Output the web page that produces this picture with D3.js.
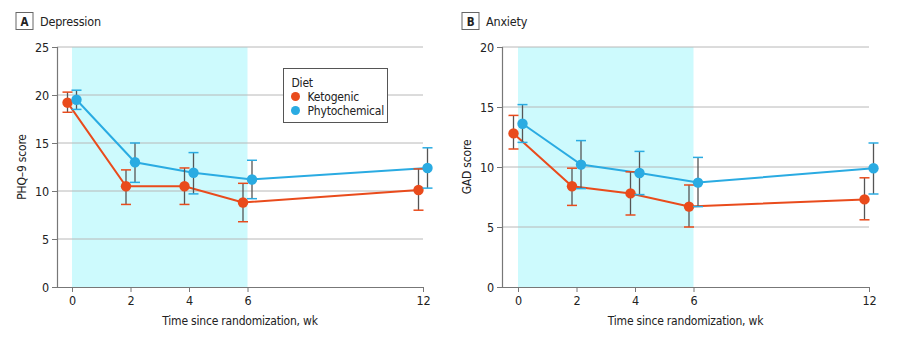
<!DOCTYPE html>
<html>
<head>
<meta charset="utf-8">
<script src="https://cdn.jsdelivr.net/npm/d3@7"></script>
<style>
  body { margin: 0; background: #fff; }
  svg text { font-family: "Liberation Sans Narrow", "DejaVu Sans Condensed", "Noto Sans", sans-serif; fill: #222; letter-spacing: -0.2px; }
</style>
</head>
<body>
<svg id="chart" width="902" height="338"></svg>
<script>
// weeks since randomization
const weeks = [0, 2, 4, 6, 12];
const weekTicks = [0, 2, 4, 6, 12];

// depression (PHQ-9), mean and 95% CI
const phqKeto = [19.2, 10.5, 10.5, 8.8, 10.1];
const phqKetoLo = [18.2, 8.6, 8.6, 6.8, 8.0];
const phqKetoHi = [20.3, 12.2, 12.4, 10.8, 12.3];
const phqPhyto = [19.5, 13.0, 11.9, 11.2, 12.4];
const phqPhytoLo = [18.5, 10.9, 9.7, 9.2, 10.3];
const phqPhytoHi = [20.5, 15.0, 14.0, 13.2, 14.5];

// anxiety (GAD), mean and 95% CI
const gadKeto = [12.8, 8.4, 7.8, 6.7, 7.3];
const gadKetoLo = [11.5, 6.8, 6.0, 5.0, 5.6];
const gadKetoHi = [14.3, 9.9, 9.6, 8.5, 9.1];
const gadPhyto = [13.6, 10.2, 9.5, 8.7, 9.9];
const gadPhytoLo = [12.05, 8.2, 7.7, 6.7, 7.75];
const gadPhytoHi = [15.2, 12.2, 11.3, 10.8, 12.0];

const dietNames = ["Ketogenic", "Phytochemical"];
const dietColors = { Ketogenic: "#e94b1c", Phytochemical: "#2aabe2" };
const interventionWeeks = [0, 6];

const svg = d3.select("#chart");

function series(name, mean, lo, hi) {
  return { name, points: weeks.map((w, i) => ({ week: w, mean: mean[i], lo: lo[i], hi: hi[i] })) };
}

function drawPanel(opts) {
  const g = svg.append("g");
  const x = d3.scaleLinear().domain([0, 12]).range([opts.x0, opts.x12]);
  const y = d3.scaleLinear().domain([0, opts.yMax]).range([287, 47]);
  const axisX = opts.axisX;

  // panel label
  g.append("rect").attr("x", opts.labelX).attr("y", 12.5).attr("width", 17).attr("height", 17)
    .attr("fill", "#fff").attr("stroke", "#666").attr("stroke-width", 1);
  g.append("text").attr("x", opts.labelX + 8.5).attr("y", 25.5).attr("text-anchor", "middle")
    .style("font-size", "11.5px").style("font-weight", "bold").text(opts.letter);
  g.append("text").attr("x", opts.labelX + 24).attr("y", 26)
    .style("font-size", "12.5px").text(opts.title);

  // intervention period
  g.append("rect")
    .attr("x", x(interventionWeeks[0])).attr("y", y(opts.yMax))
    .attr("width", x(interventionWeeks[1]) - x(interventionWeeks[0]))
    .attr("height", y(0) - y(opts.yMax))
    .attr("fill", "#cdfafd");

  // grid
  g.append("g").selectAll("line").data(opts.yTicks.filter(d => d > 0)).join("line")
    .attr("x1", axisX).attr("x2", x(12))
    .attr("y1", d => y(d)).attr("y2", d => y(d))
    .attr("stroke", "#b8b8b8").attr("stroke-width", 1);

  // axes
  const yAxis = g.append("g").attr("transform", `translate(${axisX},0)`)
    .call(d3.axisLeft(y).tickValues(opts.yTicks).tickSize(5).tickPadding(3));
  const xAxis = g.append("g").attr("transform", `translate(0,${y(0)})`)
    .call(d3.axisBottom(x).tickValues(weekTicks).tickSize(5).tickPadding(4));
  xAxis.select(".domain").attr("d", `M${axisX},0.5H${x(12)}`);
  [yAxis, xAxis].forEach(a => {
    a.select(".domain").attr("stroke", "#777").attr("stroke-width", 1.2);
    a.selectAll(".tick line").attr("stroke", "#777");
    a.selectAll(".tick text").style("font-size", "12.5px").attr("fill", "#222")
      .style("font-family", "\"Liberation Sans Narrow\", \"DejaVu Sans Condensed\", sans-serif");
  });

  g.append("text").attr("x", (axisX + x(12)) / 2).attr("y", 325).attr("text-anchor", "middle")
    .style("font-size", "12px").text("Time since randomization, wk");
  g.append("text").attr("transform", `translate(${axisX - 31},${y(opts.yMax / 2)}) rotate(-90)`)
    .attr("text-anchor", "middle").style("font-size", "12px").text(opts.yLabel);

  // keto slightly left, phyto slightly right of the week
  const shift = { Ketogenic: -4.5, Phytochemical: 4.5 };
  const line = d3.line();

  opts.data.forEach(s => {
    const px = d => x(d.week) + shift[s.name];
    g.append("path")
      .attr("d", line(s.points.map(d => [px(d), y(d.mean)])))
      .attr("fill", "none").attr("stroke", dietColors[s.name]).attr("stroke-width", 2);
  });

  opts.data.forEach(s => {
    const px = d => x(d.week) + shift[s.name];
    const eb = g.append("g").selectAll("g").data(s.points).join("g");
    eb.append("line")
      .attr("x1", px).attr("x2", px)
      .attr("y1", d => y(d.lo)).attr("y2", d => y(d.hi))
      .attr("stroke", "#555").attr("stroke-width", 1.3);
    ["lo", "hi"].forEach(k => {
      eb.append("line")
        .attr("x1", d => px(d) - 5).attr("x2", d => px(d) + 5)
        .attr("y1", d => y(d[k])).attr("y2", d => y(d[k]))
        .attr("stroke", dietColors[s.name]).attr("stroke-width", 1.5);
    });
    eb.append("circle")
      .attr("cx", px).attr("cy", d => y(d.mean)).attr("r", 5.2)
      .attr("fill", dietColors[s.name]);
  });

  return g;
}

drawPanel({
  letter: "A", title: "Depression", yLabel: "PHQ\u20139 score",
  labelX: 16, axisX: 57, x0: 72, x12: 423, yMax: 25, yTicks: [0, 5, 10, 15, 20, 25],
  data: [series("Ketogenic", phqKeto, phqKetoLo, phqKetoHi), series("Phytochemical", phqPhyto, phqPhytoLo, phqPhytoHi)]
});

drawPanel({
  letter: "B", title: "Anxiety", yLabel: "GAD score",
  labelX: 462, axisX: 502, x0: 518, x12: 869, yMax: 20, yTicks: [0, 5, 10, 15, 20],
  data: [series("Ketogenic", gadKeto, gadKetoLo, gadKetoHi), series("Phytochemical", gadPhyto, gadPhytoLo, gadPhytoHi)]
});

// legend
const legend = svg.append("g").attr("transform", "translate(283.5,68.5)");
legend.append("rect").attr("width", 104).attr("height", 54)
  .attr("fill", "#fff").attr("stroke", "#555").attr("stroke-width", 1);
legend.append("text").attr("x", 8).attr("y", 18).style("font-size", "12px").text("Diet");
const items = legend.selectAll("g.item").data(dietNames).join("g").attr("class", "item")
  .attr("transform", (d, i) => `translate(0,${28 + i * 14})`);
items.append("circle").attr("cx", 12).attr("cy", 0).attr("r", 4.5).attr("fill", d => dietColors[d]);
items.append("text").attr("x", 24).attr("y", 4.5).style("font-size", "12px").text(d => d);
</script>
</body>
</html>
